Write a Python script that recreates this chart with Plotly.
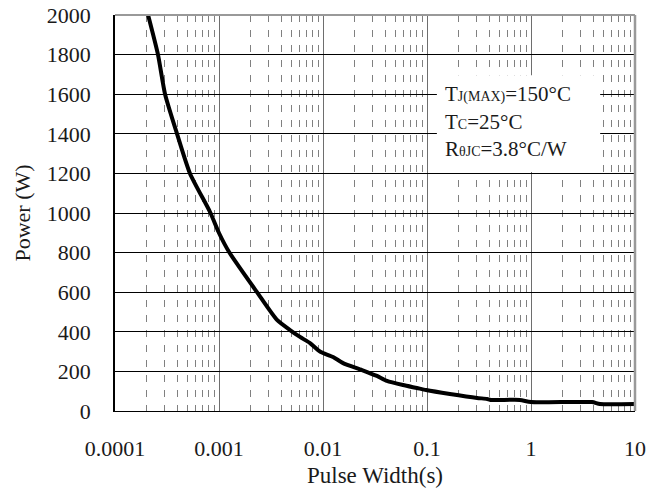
import plotly.graph_objects as go

# Pulse width (s) and peak power (W)
pulse_width = [2.08e-4, 2.59e-4, 3.03e-4, 3.95e-4, 5.26e-4, 8.2e-4, 1.0e-3,
               1.25e-3, 2.32e-3, 3.61e-3, 4.82e-3, 6.01e-3, 7.5e-3, 8.95e-3, 0.01,
               0.0125, 0.0156, 0.0237, 0.033, 0.0412, 0.0588, 0.080, 0.098, 0.166,
               0.303, 0.378, 0.41, 0.78, 1.0, 3.86, 4.6, 10.0]
power = [2000, 1800, 1600, 1400, 1200, 1005, 899,
         803, 600, 460, 409, 374, 343, 308, 293,
         273, 242, 207, 177, 152, 131, 116, 106, 86,
         66, 61, 56, 56, 45, 45, 35, 35]

x_tick_vals = [1e-4, 1e-3, 1e-2, 1e-1, 1, 10]
x_tick_text = ["0.0001", "0.001", "0.01", "0.1", "1", "10"]
y_tick_vals = [0, 200, 400, 600, 800, 1000, 1200, 1400, 1600, 1800, 2000]

note_lines = [
    "T<span style='font-size:14px'>J(MAX)</span>=150°C",
    "T<span style='font-size:14px'>C</span>=25°C",
    "R<span style='font-size:14px'>θJC</span>=3.8°C/W",
]

FONT = "Liberation Serif"
TXT = "#1a1a1a"
fig = go.Figure()
fig.add_trace(go.Scatter(x=pulse_width, y=power, mode="lines",
                         line=dict(color="black", width=4, shape="spline", smoothing=0.6),
                         showlegend=False))

fig.update_layout(
    width=660, height=496,
    margin=dict(l=115, r=25, t=15, b=85),
    paper_bgcolor="white", plot_bgcolor="white",
    font=dict(family=FONT, size=21, color=TXT),
)
fig.update_xaxes(
    type="log", range=[-4, 1],
    tickvals=x_tick_vals, ticktext=x_tick_text,
    tickfont=dict(family=FONT, size=22, color=TXT),
    showgrid=True, gridcolor="#6e6e6e", gridwidth=1,
    minor=dict(dtick="D1", showgrid=True, gridcolor="#808080", gridwidth=1,
               griddash="7px,8px", ticks=""),
    showline=True, linecolor="black", linewidth=1, mirror=False,
    ticks="", ticklabelstandoff=18, automargin=False,
    title=dict(text="Pulse Width(s)", standoff=6, font=dict(family=FONT, size=23, color=TXT)),
    zeroline=False,
)
fig.update_yaxes(
    range=[0, 2000], tickvals=y_tick_vals,
    tickfont=dict(family=FONT, size=22, color=TXT),
    showgrid=True, gridcolor="black", gridwidth=1,
    showline=True, linecolor="black", linewidth=1.5,
    ticks="", ticklabelstandoff=18, automargin=False,
    title=dict(text="Power (W)", standoff=10, font=dict(family=FONT, size=22, color=TXT)),
    zeroline=False,
)
# gray top/right frame
fig.add_shape(type="line", xref="paper", yref="paper", x0=0, x1=1, y0=1, y1=1,
              line=dict(color="#999999", width=2))
fig.add_shape(type="line", xref="paper", yref="paper", x0=1, x1=1, y0=0, y1=1,
              line=dict(color="#999999", width=2.5))
# white box behind the conditions text
fig.add_shape(type="rect", xref="paper", yref="paper", x0=0.619, x1=0.933,
              y0=0.6035, y1=0.848, fillcolor="white", line=dict(width=0), layer="above")
for ypos, txt in zip([0.8005, 0.730, 0.6616], note_lines):
    fig.add_annotation(xref="paper", yref="paper", x=0.631, y=ypos, text=txt,
                       showarrow=False, xanchor="left", yanchor="middle",
                       font=dict(family=FONT, size=21, color=TXT))

fig.write_html("out.html")
